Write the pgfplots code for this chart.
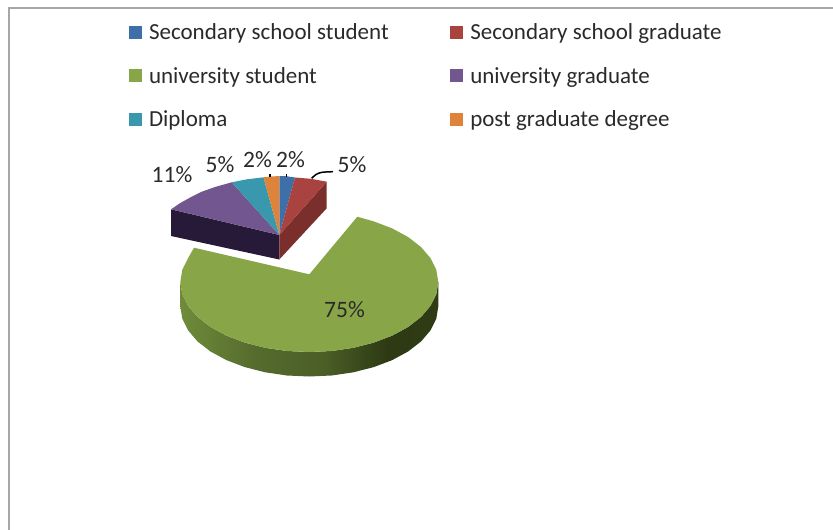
\documentclass[border=0pt]{standalone}
\usepackage{pgfplots}
\pgfplotsset{compat=1.18}
\usepackage{fontspec}
\setmainfont{Carlito}
\definecolor{cBlue}{HTML}{3E6FA8}
\definecolor{cRed}{HTML}{A8433F}
\definecolor{cGreen}{HTML}{88A548}
\definecolor{cPurple}{HTML}{71568F}
\definecolor{cTeal}{HTML}{3A98AE}
\definecolor{cOrange}{HTML}{DD843A}
\definecolor{cPurpleSide}{HTML}{261A38}
\definecolor{cRedSide}{HTML}{7A2F2C}
\definecolor{cFrame}{HTML}{A6A6A6}
\definecolor{cText}{HTML}{2A2A2A}
\definecolor{rimA}{HTML}{6F8B3A}
\definecolor{rimB}{HTML}{566C2E}
\definecolor{rimC}{HTML}{4A5E26}
\definecolor{rimD}{HTML}{2E3A14}
\definecolor{rimE}{HTML}{2F3B15}
% Rim of the large slice: lighter on the left, darkest towards the right
\pgfdeclarehorizontalshading{greenrim}{100bp}{
  color(0bp)=(rimA);
  color(25bp)=(rimA);
  color(39bp)=(rimB);
  color(53bp)=(rimC);
  color(65bp)=(rimD);
  color(75bp)=(rimE);
  color(100bp)=(rimE)}
\begin{document}
\begin{tikzpicture}
\useasboundingbox (0,0) rectangle (833pt,530pt);
\begin{axis}[
  scale only axis, width=833pt, height=530pt,
  xmin=0, xmax=833, ymin=0, ymax=530, y dir=reverse,
  hide axis, clip=false,
  legend columns=2,
  legend cell align=left,
  legend style={
    at={(axis cs:129,21.5)}, anchor=north west, draw=none, fill=none,
    font=\fontsize{23}{23}\selectfont, text=cText,
    /tikz/every even column/.append style={column sep=59.5pt},
    row sep=22.2pt, inner sep=0pt, outer sep=0pt},
  legend image code/.code={\fill[#1] (0pt,-6.5pt) rectangle (13pt,6.5pt); \path (18pt,0pt);},
]
% Frame along the top and the left
\addplot[cFrame, line width=2pt, forget plot] coordinates {(9,530) (9,8) (833,8)};

% Rim of the large slice
\addplot[draw=none, shading=greenrim, forget plot] coordinates {
 (180.3,282) (182.3,294.2) (188.1,305.9) (197.6,317.0) (210.5,327.0) (226.4,335.6)
 (244.8,342.6) (265.2,347.8) (286.9,351.0) (309.3,352) (331.7,351.0) (353.4,347.8)
 (373.8,342.6) (392.2,335.6) (408.1,327.0) (421.0,317.0) (430.5,305.9) (436.3,294.2) (438.3,282)
 (438.3,306.5) (436.3,318.7) (430.5,330.4) (421.0,341.5) (408.1,351.5) (392.2,360.1)
 (373.8,367.1) (353.4,372.3) (331.7,375.5) (309.3,376.5) (286.9,375.5) (265.2,372.3)
 (244.8,367.1) (226.4,360.1) (210.5,351.5) (197.6,341.5) (188.1,330.4) (182.3,318.7) (180.3,306.5)
} --cycle;

% Cut faces of the pulled-out group
\addplot[fill=cPurpleSide, draw=none, forget plot] coordinates {
 (171,209.3) (279.3,235) (279.3,259.5) (171,236)} --cycle;
\addplot[fill=cRedSide, draw=none, forget plot] coordinates {
 (279.3,235) (326.7,181.7) (326.7,208.3) (279.3,259.5)} --cycle;

% Top faces, one series per category
\addplot[fill=cBlue, draw=none] coordinates {
 (279.3,235) (279.5,176) (287,176.3) (295,177.5)} --cycle;
\addlegendentry{Secondary school student}
\addplot[fill=cRed, draw=none] coordinates {
 (279.3,235) (295,177.5) (311,178.8) (326.7,181.7)} --cycle;
\addlegendentry{Secondary school graduate}
\addplot[fill=cGreen, draw=none] coordinates {
 (309.3,274.3) (357.3,216.7) (373.8,221.4) (392.2,228.4) (408.1,237.0) (421.0,247.0)
 (430.5,258.1) (436.3,269.8) (438.3,282) (436.3,294.2) (430.5,305.9) (421.0,317.0)
 (408.1,327.0) (392.2,335.6) (373.8,342.6) (353.4,347.8) (331.7,351.0) (309.3,352)
 (286.9,351.0) (265.2,347.8) (244.8,342.6) (226.4,335.6) (210.5,327.0) (197.6,317.0)
 (188.1,305.9) (182.3,294.2) (180.3,282) (182.3,269.8) (188.1,258.1) (194,247.7)} --cycle;
\addlegendentry{university student}
\addplot[fill=cPurple, draw=none] coordinates {
 (279.3,235) (171,209.3) (180,203.2) (190,197.6) (201,192) (215,187) (231.7,182.3)} --cycle;
\addlegendentry{university graduate}
\addplot[fill=cTeal, draw=none] coordinates {
 (279.3,235) (231.7,182.3) (247,179.3) (263.5,177.3)} --cycle;
\addlegendentry{Diploma}
\addplot[fill=cOrange, draw=none] coordinates {
 (279.3,235) (263.5,177.3) (271,176.5) (279.5,176)} --cycle;
\addlegendentry{post graduate degree}

% Leader lines of the small slices
\addplot[black, line width=1.5pt, forget plot] coordinates {(270,173.5) (270,177)};
\addplot[black, line width=1.5pt, forget plot] coordinates {(286.5,173.5) (286.5,177)};
\addplot[black, line width=1.5pt, smooth, forget plot] coordinates {(311.7,178.3) (316,174.5) (322,172.3) (333,171.7)};

% Percentages
\begin{scope}[every node/.style={font=\fontsize{23.5}{23.5}\selectfont, text=cText, inner sep=0pt}]
\node at (axis cs:172,175) {11\%};
\node at (axis cs:220,165) {5\%};
\node at (axis cs:257.5,160) {2\%};
\node at (axis cs:290.5,160) {2\%};
\node at (axis cs:352,165) {5\%};
\node at (axis cs:344.5,310) {75\%};
\end{scope}
\end{axis}
\end{tikzpicture}
\end{document}
